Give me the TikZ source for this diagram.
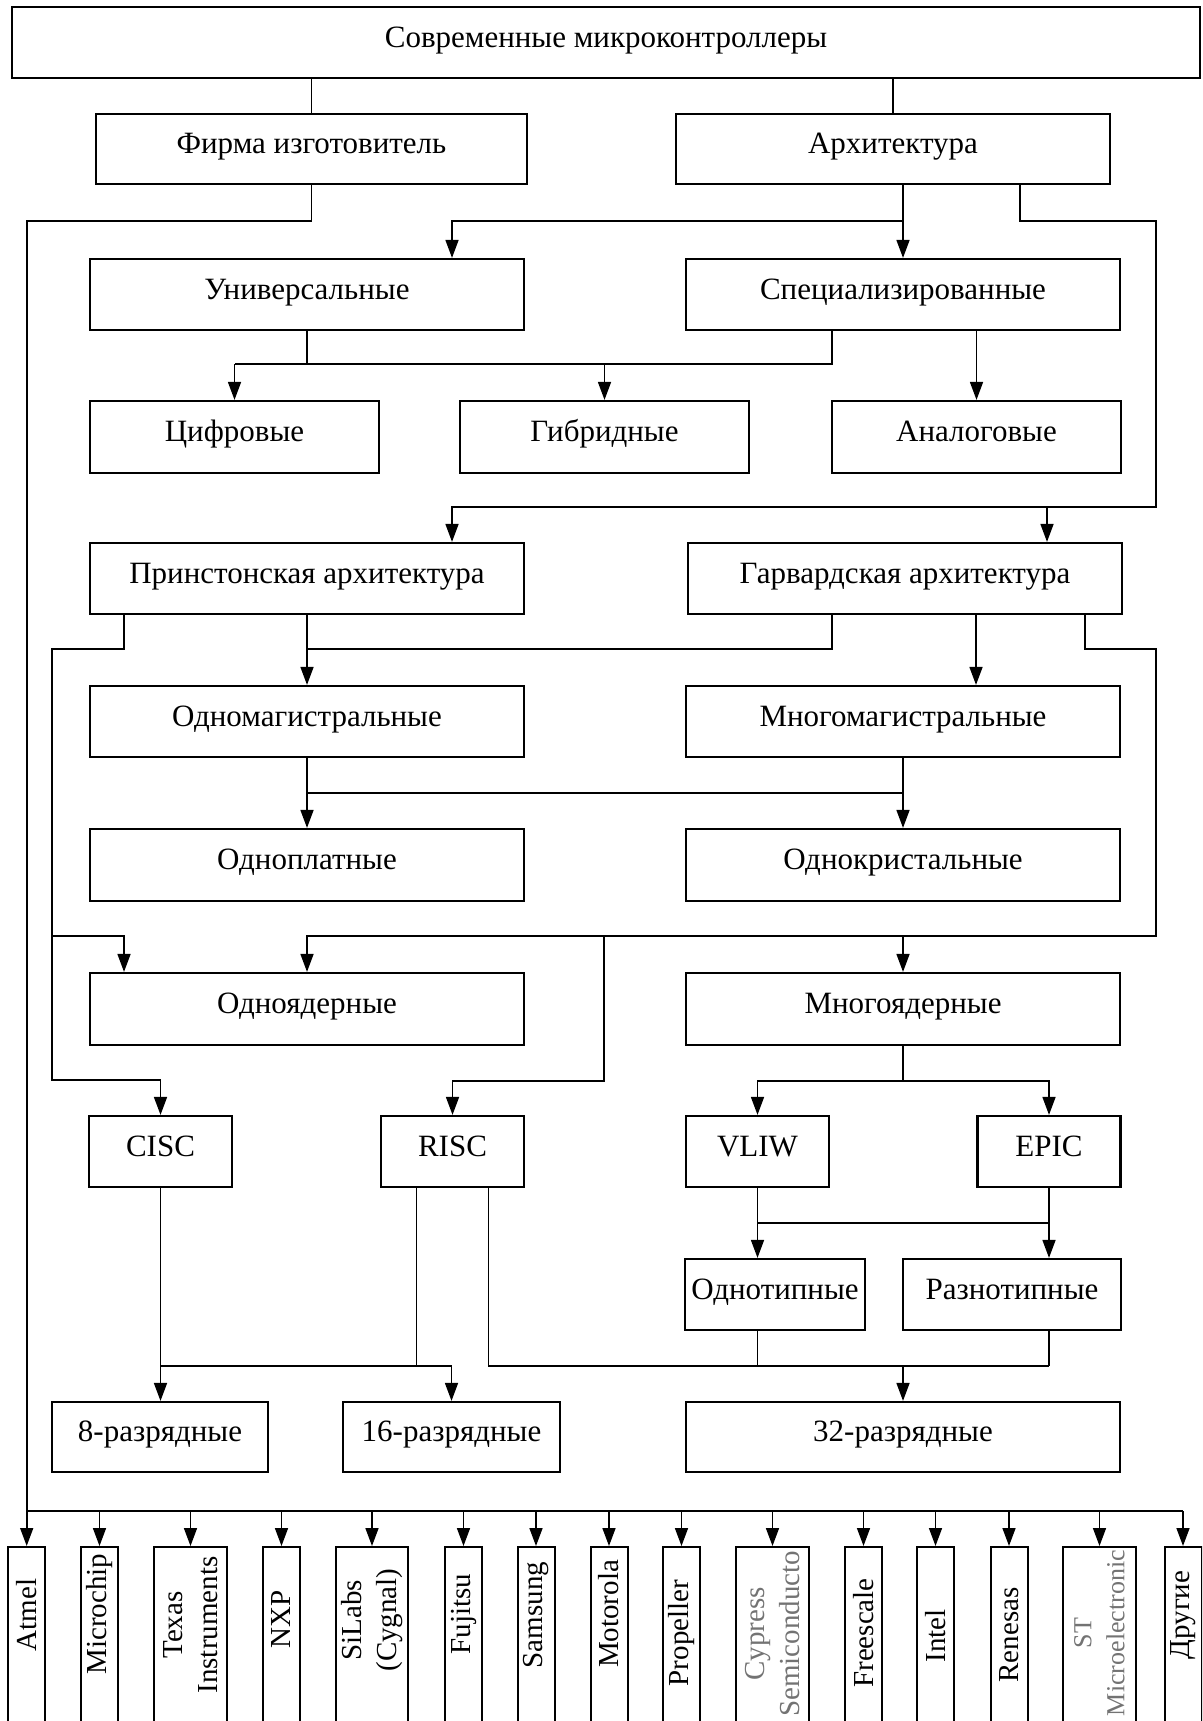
\documentclass[tikz,border=0pt]{standalone}
\usepackage{fontspec}
\setmainfont{Liberation Serif}
\usetikzlibrary{arrows.meta,positioning}

\begin{document}
\begin{tikzpicture}[x=1pt,y=-1pt,
box/.style={draw,line width=2.2pt,minimum width=434pt,minimum height=71pt,inner sep=0pt,text height=21pt,text depth=12pt,font=\fontsize{31}{36}\selectfont},
sbox/.style={box,minimum width=143pt},
firmbox/.style={draw,line width=2pt,anchor=north,minimum height=300pt,inner sep=0pt},
firmtext/.style={rotate=90,align=center,inner sep=0pt,font=\fontsize{29}{35}\selectfont},
plain/.style={},
faded/.style={text=black!55},
fadedsmall/.style={text=black!55,font=\fontsize{26}{33}\selectfont},
ln/.style={line width=1.6pt},
arr/.style={-{Triangle[length=18pt,width=13pt]},line width=1.6pt}]
\clip (0,0) rectangle (1202,1721);
\node[box,minimum width=1188pt](top) at (606,42.5){Современные микроконтроллеры};
\node[box,minimum width=431pt,minimum height=70pt](firm) at (311.5,149){Фирма изготовитель};
\node[box,minimum height=70pt](arch) at (893,149){Архитектура};
\node[box](univ) at (307,294.5){Универсальные};
\node[box](spec) at (903,294.5){Специализированные};
\node[box,minimum width=289pt,minimum height=72pt](digital) at (234.5,437){Цифровые};
\node[box,minimum width=289pt,minimum height=72pt](hybrid) at (604.5,437){Гибридные};
\node[box,minimum width=289pt,minimum height=72pt](analog) at (976.5,437){Аналоговые};
\node[box](princeton) at (307,578.5){Принстонская архитектура};
\node[box](harvard) at (905,578.5){Гарвардская архитектура};
\node[box](onebus) at (307,721.5){Одномагистральные};
\node[box](multibus) at (903,721.5){Многомагистральные};
\node[box,minimum height=72pt](board) at (307,865){Одноплатные};
\node[box,minimum height=72pt](chip) at (903,865){Однокристальные};
\node[box,minimum height=72pt](single) at (307,1009){Одноядерные};
\node[box,minimum height=72pt](multi) at (903,1009){Многоядерные};
\node[sbox](cisc) at (160.5,1151.5){CISC};
\node[sbox](risc) at (452.5,1151.5){RISC};
\node[sbox](vliw) at (757.5,1151.5){VLIW};
\node[sbox](epic) at (1049,1151.5){EPIC};
\node[box,minimum width=180pt](same) at (775,1294.5){Однотипные};
\node[box,minimum width=218pt](mixed) at (1012,1294.5){Разнотипные};
\node[box,minimum width=216pt,minimum height=70pt](b8) at (160,1437){8-разрядные};
\node[box,minimum width=217pt,minimum height=70pt](b16) at (451.5,1437){16-разрядные};
\node[box,minimum height=70pt](b32) at (903,1437){32-разрядные};
% manufacturers, boxes run off the bottom edge
\foreach \n/\x/\w/\y/\o/\t in {atmel/26.7/37/1615/plain/Atmel,microchip/99.5/37/1614/plain/Microchip,
  texas/190.5/73/1625/plain/{Texas\\Instruments},nxp/281.5/37/1619/plain/NXP,
  silabs/372/72/1620/plain/{SiLabs\\(Cygnal)},fujitsu/463.5/37/1614/plain/Fujitsu,
  samsung/536/37/1615/plain/Samsung,motorola/609/37/1614/plain/Motorola,
  propeller/681.5/37/1633/plain/Propeller,cypress/772.5/73/1634/faded/{Cypress\\Semiconducto},
  freescale/863.5/37/1633/plain/Freescale,intel/935.5/37/1636/plain/Intel,
  renesas/1009/37/1635/plain/Renesas,st/1099.5/73/1633/fadedsmall/{ST\\Microelectronic},
  drugie/1183/37/1615/plain/Другие}
 {\node[firmbox,minimum width=\w pt](\n) at (\x,1546){};
  \node[firmtext,\o](\n-t) at (\x,\y){\t};}
% bends
\coordinate(lvl1) at (0,221);
\coordinate(lvl2) at (0,364);
\coordinate(lvl3) at (0,649);
\coordinate(lvl4) at (0,793);
\coordinate(lvl5) at (0,1081);
\coordinate(lvl6) at (0,1223);
\coordinate(lvl7) at (0,1366);
\coordinate(bus) at (0,1511);
\coordinate(archR) at (1156,221);
\coordinate(archRb) at (1156,507);
\coordinate(prL) at (52,649);
\coordinate(prLm) at (52,936);
\coordinate(prLb) at (52,1080);
\coordinate(hvR) at (1156,649);
\coordinate(hvRb) at (1156,936);
\coordinate(rs1) at (604,936);
\coordinate(rs2) at (604,1081);
\coordinate(univIn) at ([xshift=145pt]univ.north);
\coordinate(prIn) at ([xshift=145pt]princeton.north);
\coordinate(hvIn) at ([xshift=142pt]harvard.north);
\coordinate(archOut) at ([xshift=127pt]arch.south);
\coordinate(specL) at ([xshift=-71pt]spec.south);
\coordinate(prOut) at ([xshift=-183pt]princeton.south);
\coordinate(sgIn) at ([xshift=-183pt]single.north);
\coordinate(hvL) at ([xshift=-73pt]harvard.south);
\coordinate(hvM) at ([xshift=71pt]harvard.south);
\coordinate(hvRr) at ([xshift=180pt]harvard.south);
\coordinate(rsL) at ([xshift=-36pt]risc.south);
\coordinate(rsR) at ([xshift=36pt]risc.south);
% top level
\draw[ln](top.south -| firm.north)--(firm.north);
\draw[ln](top.south -| arch.north)--(arch.north);
\draw[arr](firm.south)|-(lvl1 -| atmel.north)--(atmel.north);
\draw[ln](bus -| atmel.north)--(bus -| drugie.north);
\foreach \n in {microchip,texas,nxp,silabs,fujitsu,samsung,motorola,propeller,cypress,freescale,intel,renesas,st,drugie}
  \draw[arr](bus -| \n.north)--(\n.north);
% architecture
\draw[arr](arch.south -| spec.north)--(spec.north);
\draw[arr](lvl1 -| spec.north)-|(univIn);
\draw[arr](archOut)|-(archR)--(archRb)-|(prIn);
\draw[arr](archRb -| hvIn)--(hvIn);
\draw[ln](univ.south)--(lvl2 -| univ.south);
\draw[ln](specL)|-(lvl2 -| digital.north);
\draw[arr](lvl2 -| digital.north)--(digital.north);
\draw[arr](lvl2 -| hybrid.north)--(hybrid.north);
\draw[arr](spec.south -| analog.north)--(analog.north);
% Princeton / Harvard
\draw[arr](prOut)|-(prL)--(prLb)-|(cisc.north);
\draw[arr](prLm)-|(sgIn);
\draw[arr](princeton)--(onebus);
\draw[ln](hvL)|-(lvl3 -| princeton.south);
\draw[arr](hvM)--(multibus.north -| hvM);
\draw[arr](hvRr)|-(hvR)--(hvRb)-|(single.north);
\draw[arr](hvRb -| multi.north)--(multi.north);
\draw[arr](rs1)--(rs2)-|(risc.north);
\draw[arr](onebus)--(board);
\draw[arr](multibus)--(chip);
\draw[ln](lvl4 -| onebus)--(lvl4 -| multibus);
\draw[ln](multi.south)--(lvl5 -| multi.south);
\draw[arr](lvl5 -| multi)-|(vliw.north);
\draw[arr](lvl5 -| multi)-|(epic.north);
\draw[arr](vliw.south)--(same.north -| vliw.south);
\draw[arr](epic.south)--(mixed.north -| epic.south);
\draw[ln](lvl6 -| vliw)--(lvl6 -| epic);
% word length
\draw[arr](cisc.south)--(b8.north -| cisc.south);
\draw[ln](rsL)--(lvl7 -| rsL);
\draw[arr](lvl7 -| cisc)-|(b16.north);
\draw[ln](rsR)|-(lvl7 -| epic);
\draw[ln](same.south -| vliw)--(lvl7 -| vliw);
\draw[ln](mixed.south -| epic)--(lvl7 -| epic);
\draw[arr](lvl7 -| b32)--(b32.north);
\end{tikzpicture}
\end{document}
